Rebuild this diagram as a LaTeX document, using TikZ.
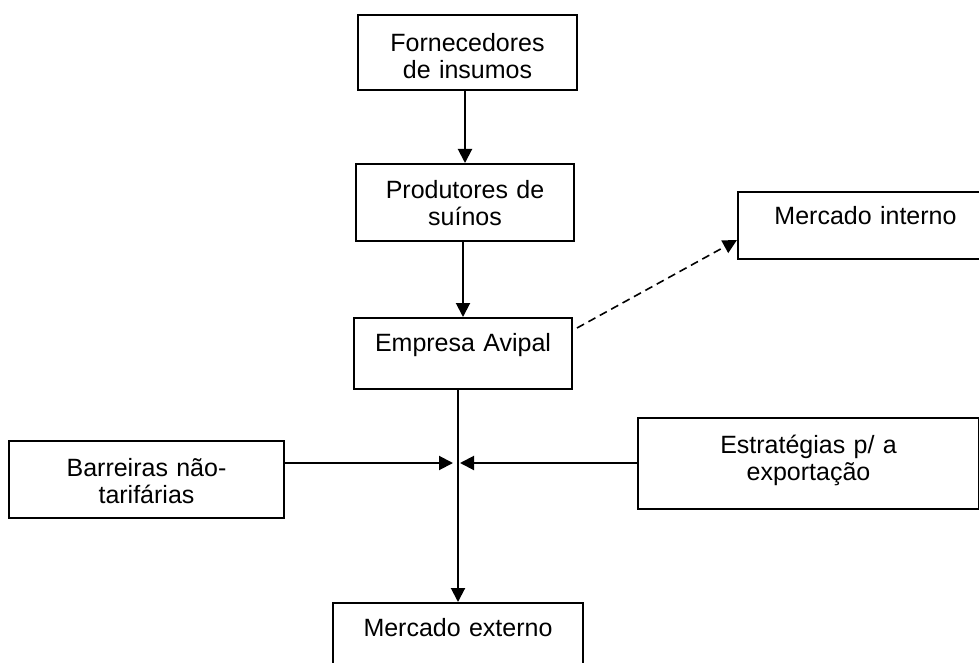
\documentclass[tikz,border=0pt]{standalone}
\usepackage{fontspec}
\setmainfont{Liberation Sans}
\usetikzlibrary{arrows.meta}

\begin{document}
\begin{tikzpicture}[x=1pt,y=-1pt,
	caixa/.style={draw,line width=2pt,anchor=north west,align=center,inner sep=0pt,
		font=\fontsize{25}{27}\selectfont},
	seta/.style={line width=2pt,-{Triangle[length=14pt,width=14pt]}}]
	\path[use as bounding box,clip] (0,0) rectangle (979,663);
	\node [caixa,text width=219pt,text height=37pt,text depth=38pt] (forn) at (357,14) {Fornecedores\\de insumos};
	\node [caixa,text width=218pt,text height=34pt,text depth=43pt] (prod) at (355,163) {Produtores de\\suínos};
	\node [caixa,text width=218pt,text height=33pt,text depth=38pt] (emp) at (353,317) {Empresa Avipal};
	\node [caixa,text width=255pt,text height=32pt,text depth=35pt] (merint) at (737,191) {Mercado interno};
	\node [caixa,text width=275pt,text height=35pt,text depth=42pt] (barr) at (8,440) {Barreiras não-\\tarifárias};
	\node [caixa,text width=341pt,text height=35pt,text depth=56pt] (estr) at (637,417) {Estratégias p/ a\\exportação};
	\node [caixa,text width=250pt,text height=33pt,text depth=50pt] (merext) at (332,602) {Mercado externo};
	\coordinate (jl) at (453,463);
	\coordinate (jr) at (460,463);
	\draw [seta] (forn.south -| prod.north) -- (prod.north);
	\draw [seta] (prod.south -| emp.north) -- (emp.north);
	\draw [seta,line width=1.6pt,dash pattern=on 8pt off 5pt] ([shift={(4,11)}]emp.north east) -- ([shift={(0,49)}]merint.north west);
	\draw [seta] (emp.south -| merext.north) -- (merext.north);
	\draw [seta] ([shift={(0,23)}]barr.north east) -- (jl);
	\draw [seta] ([shift={(0,46)}]estr.north west) -- (jr);
\end{tikzpicture}
\end{document}
